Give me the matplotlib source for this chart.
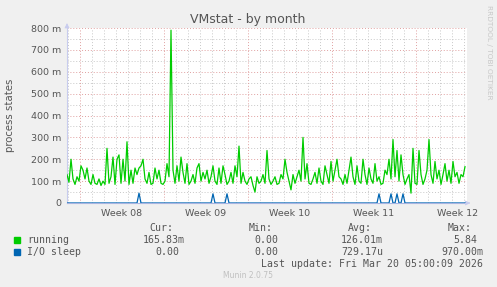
import matplotlib
matplotlib.use("Agg")
import matplotlib.pyplot as plt
import numpy as np

# ---- data (values in milli-units, one sample every 4 hours) ----
running_m = [
    130, 95, 200, 110, 85, 120, 100, 170, 150, 110, 160, 100, 85, 130, 90, 85, 110, 80, 100, 85,
    250, 90, 120, 210, 85, 200, 220, 90, 200, 100, 280, 85, 150, 90, 160,
    130, 160, 170, 200, 110, 90, 140, 85, 90, 160, 110, 150, 90, 85, 100, 180, 120,
    790,
    150, 90, 170, 100, 210, 140, 90, 180, 85, 100, 130, 90, 160, 180, 100, 140,
    110, 150, 90, 120, 170, 100, 85, 160, 90, 170, 130, 85, 100, 140, 90, 170, 120, 260, 90, 140,
    100, 85, 110, 120, 80, 50, 120, 90, 100, 130, 90, 240, 110, 85,
    100, 120, 85, 90, 130, 110, 200, 140, 100, 60, 130, 90, 120, 150, 100, 300, 110, 180, 90, 85,
    110, 140, 90, 160, 100, 85, 170, 130, 90, 190, 100, 150, 200, 120,
    110, 85, 130, 90, 150, 210, 120, 85, 170, 100, 90, 200, 130, 85, 160, 110, 90, 180, 100, 120,
    85, 90, 150, 130, 200, 110, 290, 120, 240, 100, 220, 130, 85, 110,
    130, 45, 250, 90, 85, 240, 130, 85, 110, 150, 290, 130, 90, 190, 110, 150, 85, 130, 180, 100,
    150, 90, 190, 120, 140, 90, 130, 120, 166,
]
io_spike_idx = [36, 73, 80, 156, 162, 165, 168]
io_spike_m = [45, 42, 42, 42, 42, 42, 42]

week_labels = ["Week 08", "Week 09", "Week 10", "Week 11", "Week 12"]
week_start_h = [26, 194, 362, 530, 698]      # hours from graph start
step_h = 4
span_h = 800

legend_names = ["running", "I/O sleep"]
legend_cur = ["165.83m", "0.00"]
legend_min = ["0.00", "0.00"]
legend_avg = ["126.01m", "729.17u"]
legend_max = ["5.84", "970.00m"]
last_update = "Last update: Fri Mar 20 05:00:09 2026"
version = "Munin 2.0.75"

# ---- build series ----
n = len(running_m)
t = np.arange(n) * step_h
running = np.array(running_m) / 1000.0
io = np.zeros(n)
for i, v in zip(io_spike_idx, io_spike_m):
    io[i] = v / 1000.0

W, H = 497, 287
fig = plt.figure(figsize=(W / 100, H / 100), dpi=100, facecolor="#F0F0F0")
L, R, T, B = 67, 467, 28, 203
ax = fig.add_axes([L / W, 1 - B / H, (R - L) / W, (B - T) / H])
ax.set_facecolor("white")
ax.set_xlim(0, span_h)
ax.set_ylim(0, 0.8)

# grid
minor_col = "#C8C8C8"
major_col = "#E0A0A0"
for y in np.arange(0.05, 0.8, 0.1):
    ax.axhline(y, color=minor_col, lw=0.7, ls=(0, (1, 2)), zorder=1)
for y in np.arange(0.1, 0.81, 0.1):
    ax.axhline(y, color=major_col, lw=0.7, ls=(0, (1, 2)), zorder=1)
for h in np.arange(week_start_h[0] - 24, span_h, 24):
    if (h - week_start_h[0]) % 168 != 0:
        ax.axvline(h, color=minor_col, lw=0.7, ls=(0, (1, 2)), zorder=1)
for h in week_start_h:
    ax.axvline(h, color=major_col, lw=0.7, ls=(0, (1, 2)), zorder=1)

ax.plot(t, running, color="#00CC00", lw=0.9, zorder=3)
ax.plot(t, io, color="#0066B3", lw=0.9, zorder=4)

for s in ["top", "right"]:
    ax.spines[s].set_visible(False)
ax.spines["left"].set_color("#C8CCEE")
ax.spines["bottom"].set_color("#A8B4E0")
ax.spines["left"].set_linewidth(0.8)
ax.spines["bottom"].set_linewidth(0.8)

# arrows
ax.annotate("", xy=(0, 0.835), xytext=(0, 0.79), xycoords="data",
            arrowprops=dict(arrowstyle="-|>", color="#C8CCEE", lw=0.6, mutation_scale=7),
            annotation_clip=False)
ax.annotate("", xy=(span_h + 12, 0), xytext=(span_h - 2, 0), xycoords="data",
            arrowprops=dict(arrowstyle="-|>", color="#C8CCEE", lw=0.6, mutation_scale=7),
            annotation_clip=False)

yt = np.arange(0, 0.81, 0.1)
ax.set_yticks(yt)
ax.set_yticklabels(["0"] + ["%d m" % round(v * 1000) for v in yt[1:]])
ax.set_xticks([h + 84 for h in week_start_h])
ax.set_xticklabels(week_labels)
ax.tick_params(axis="both", length=0, labelsize=6.8, colors="#555555", pad=4)

def px(x, y):
    return x / W, 1 - y / H

fig.text(*px(248, 19), "VMstat - by month", ha="center", va="center",
         fontsize=9, color="#555555")
fig.text(*px(10, 115), "process states", ha="center", va="center",
         rotation=90, fontsize=7.3, color="#555555")
fig.text(*px(489, 52), "RRDTOOL / TOBI OETIKER", ha="center", va="center",
         rotation=270, fontsize=5.3, color="#C8C8C8")

mono = dict(family="DejaVu Sans Mono", fontsize=7.15, color="#555555", va="center")
cw = 5.97
heads = ["Cur:", "Min:", "Avg:", "Max:"]
edges = [185, 284, 383, 483]
for hd, e in zip(heads, edges):
    fig.text(*px(e - 2 * cw + 0.5, 228), hd, ha="right", **mono)
colors = ["#00CC00", "#0066B3"]
rows_y = [240, 252]
for k in range(2):
    y = rows_y[k]
    fig.patches.append(plt.Rectangle(((14) / W, 1 - (y + 3) / H), 6 / W, 6 / H,
                                     transform=fig.transFigure, color=colors[k]))
    fig.text(*px(27, y), legend_names[k], ha="left", **mono)
    for vals, e in zip([legend_cur, legend_min, legend_avg, legend_max], edges):
        s = vals[k]
        off = 0 if s[-1].isalpha() else cw
        fig.text(*px(e - off, y), s, ha="right", **mono)
fig.text(*px(483, 264), last_update, ha="right", **mono)
fig.text(*px(248, 276), version, ha="center", va="center", fontsize=5.5, color="#C0C0C0")

fig.savefig("out.png", dpi=100, facecolor=fig.get_facecolor())
